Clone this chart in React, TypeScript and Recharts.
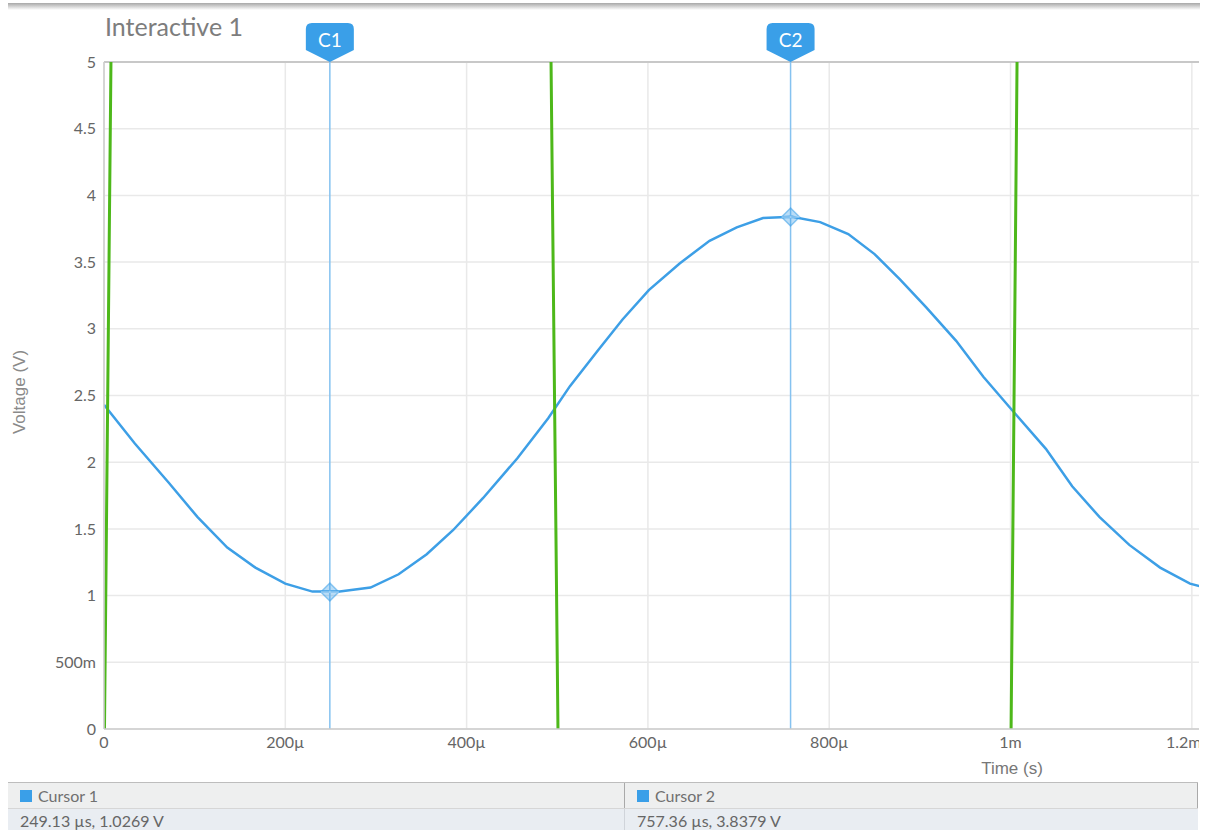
import React from "react"
import {
  LineChart,
  Line,
  XAxis,
  YAxis,
  CartesianGrid,
  ReferenceLine,
  ReferenceDot,
} from "recharts"

// sampled waveform of the probe (time in µs, voltage in V)
const sineTime = [
  0, 34, 71, 103, 136, 167, 200, 230, 260, 294, 325, 356, 385, 418, 456, 490,
  514, 545, 572, 601, 635, 668, 698, 727, 759, 790, 821, 850, 878, 907, 940,
  970, 1003, 1039, 1068, 1098, 1131, 1165, 1198, 1209,
]
const sineVolts = [
  2.43, 2.14, 1.85, 1.59, 1.36, 1.21, 1.09, 1.03, 1.03, 1.06, 1.16, 1.31, 1.49,
  1.73, 2.03, 2.33, 2.57, 2.84, 3.07, 3.29, 3.49, 3.66, 3.76, 3.83, 3.84, 3.8,
  3.71, 3.56, 3.37, 3.16, 2.91, 2.64, 2.38, 2.1, 1.82, 1.59, 1.38, 1.21, 1.09,
  1.07,
]

// square drive signal, edges only (plateaus fall outside the visible window)
const squareTime = [-0.9, 9.1, 491.6, 502.3, 999.3, 1008.5, 1215]
const squareVolts = [-1, 6, 6, -1, -1, 6, 6]

const xTicks = [0, 200, 400, 600, 800, 1000, 1200]
const yTicks = [0, 0.5, 1, 1.5, 2, 2.5, 3, 3.5, 4, 4.5, 5]

const cursors = [
  { name: "C1", title: "Cursor 1", t: 249.13, v: 1.0269, text: "249.13 µs, 1.0269 V" },
  { name: "C2", title: "Cursor 2", t: 757.36, v: 3.8379, text: "757.36 µs, 3.8379 V" },
]

const sineData = sineTime.map((t, i) => ({ t, v: sineVolts[i] }))
const squareData = squareTime.map((t, i) => ({ t, v: squareVolts[i] }))

const BLUE = "#3d9fe6"
const GREEN = "#4db81a"
const FONT = "Lato, 'Open Sans', sans-serif"

const fmtX = (v: number) => {
  if (v === 0) return "0"
  if (v < 1000) return `${v}µ`
  return `${v / 1000}m`
}
const fmtY = (v: number) => (v === 0.5 ? "500m" : String(v))

const CursorTag = (props: any) => {
  const { cx, cy, name } = props
  const left = cx - 24
  const right = cx + 24
  const top = cy - 39
  const side = cy - 12
  const r = 6
  const d = `M${left},${side} L${left},${top + r} Q${left},${top} ${left + r},${top} L${right - r},${top} Q${right},${top} ${right},${top + r} L${right},${side} L${cx},${cy} Z`
  return (
    <g>
      <path d={d} fill="#3a9fe8" />
      <text
        x={cx}
        y={cy - 23}
        textAnchor="middle"
        dominantBaseline="central"
        fill="#fff"
        fontSize={19}
        fontFamily={FONT}
      >
        {name}
      </text>
    </g>
  )
}

const CursorMark = (props: any) => {
  const { cx, cy } = props
  const s = 9
  return (
    <g>
      <path
        d={`M${cx},${cy - s} L${cx + s},${cy} L${cx},${cy + s} L${cx - s},${cy} Z`}
        fill="rgba(58,159,232,0.35)"
        stroke="rgba(58,159,232,0.55)"
        strokeWidth={1.5}
      />
      <line x1={cx - s} y1={cy} x2={cx + s} y2={cy} stroke="rgba(255,255,255,0.7)" strokeWidth={1} />
    </g>
  )
}

export default function App() {
  return (
    <div
      style={{
        position: "fixed",
        left: 0,
        top: 0,
        width: 1213,
        height: 830,
        background: "#fff",
        overflow: "hidden",
        fontFamily: FONT,
      }}
    >
      <div
        style={{
          position: "absolute",
          left: 8,
          top: 3,
          width: 1192,
          height: 7,
          background: "linear-gradient(#a8a8a8, #ffffff)",
        }}
      />
      <div
        style={{
          position: "absolute",
          left: 105,
          top: 11,
          fontSize: 25,
          color: "#7d7d7d",
          lineHeight: "30px",
        }}
      >
        Interactive 1
      </div>

      <div style={{ position: "absolute", left: 0, top: 0, width: 1199, height: 790, overflow: "hidden" }}>
        <LineChart width={1200} height={790} margin={{ top: 62, right: 0, left: 0, bottom: 31 }}>
          <CartesianGrid stroke="#e9e9e9" strokeWidth={1.5} />
          <XAxis
            type="number"
            dataKey="t"
            domain={[0, 1209]}
            ticks={xTicks}
            tickFormatter={fmtX}
            allowDataOverflow
            height={30}
            tickLine={false}
            axisLine={{ stroke: "#cccccc", strokeWidth: 1.5 }}
            tick={{ fill: "#666", fontSize: 16, fontFamily: FONT }}
          />
          <YAxis
            type="number"
            dataKey="v"
            domain={[0, 5]}
            ticks={yTicks}
            tickFormatter={fmtY}
            allowDataOverflow
            width={104}
            tickLine={false}
            axisLine={{ stroke: "#cccccc", strokeWidth: 1.5 }}
            tick={{ fill: "#666", fontSize: 16, fontFamily: FONT }}
          />
          <ReferenceLine y={5} stroke="#c8c8c8" strokeWidth={2} />
          <Line
            data={sineData}
            dataKey="v"
            stroke={BLUE}
            strokeWidth={2.5}
            dot={false}
            activeDot={false}
            isAnimationActive={false}
          />
          <Line
            data={squareData}
            dataKey="v"
            stroke={GREEN}
            strokeWidth={3}
            dot={false}
            activeDot={false}
            isAnimationActive={false}
          />
          {cursors.map((c) => (
            <ReferenceLine key={c.name + "l"} x={c.t} stroke="#85c2f0" strokeWidth={1.5} />
          ))}
          {cursors.map((c) => (
            <ReferenceDot key={c.name + "m"} x={c.t} y={c.v} shape={(p: any) => <CursorMark {...p} />} />
          ))}
          {cursors.map((c) => (
            <ReferenceDot
              key={c.name + "t"}
              x={c.t}
              y={5}
              shape={(p: any) => <CursorTag {...p} name={c.name} />}
            />
          ))}
        </LineChart>
      </div>

      <div
        style={{
          position: "absolute",
          left: 0,
          top: 382,
          width: 40,
          height: 20,
          transform: "rotate(-90deg)",
          transformOrigin: "20px 10px",
        }}
      >
        <div
          style={{
            position: "absolute",
            left: -40,
            top: 0,
            width: 120,
            textAlign: "center",
            fontFamily: "'Liberation Sans', Arial, sans-serif",
            fontSize: 17,
            color: "#8a8a8a",
            lineHeight: "20px",
            whiteSpace: "nowrap",
          }}
        >
          Voltage (V)
        </div>
      </div>
      <div
        style={{
          position: "absolute",
          left: 962,
          top: 758,
          width: 100,
          textAlign: "center",
          fontFamily: "'Liberation Sans', Arial, sans-serif",
          fontSize: 17,
          color: "#777",
          lineHeight: "22px",
        }}
      >
        Time (s)
      </div>

      <div style={{ position: "absolute", left: 8, top: 782, width: 1190, borderTop: "1px solid #bdbdbd" }}>
        <div style={{ display: "flex", height: 25, background: "#eeefef", borderBottom: "1px solid #d6d6d6" }}>
          {cursors.map((c, i) => (
            <div
              key={c.name}
              style={{
                width: i === 0 ? 617 : 573,
                boxSizing: "border-box",
                borderRight: "1px solid #a9a9a9",
                display: "flex",
                alignItems: "center",
                paddingLeft: 12,
                fontSize: 16,
                color: "#707070",
              }}
            >
              <span style={{ width: 12, height: 12, background: "#3a9fe8", marginRight: 6, display: "inline-block" }} />
              {c.title}
            </div>
          ))}
        </div>
        <div style={{ display: "flex", height: 22, background: "#e9edf2" }}>
          {cursors.map((c, i) => (
            <div
              key={c.name}
              style={{
                width: i === 0 ? 617 : 573,
                boxSizing: "border-box",
                borderRight: i === 0 ? "1px solid #d0d4da" : "none",
                display: "flex",
                alignItems: "center",
                paddingLeft: 12,
                fontSize: 16,
                color: "#666",
              }}
            >
              {c.text}
            </div>
          ))}
        </div>
      </div>
    </div>
  )
}
